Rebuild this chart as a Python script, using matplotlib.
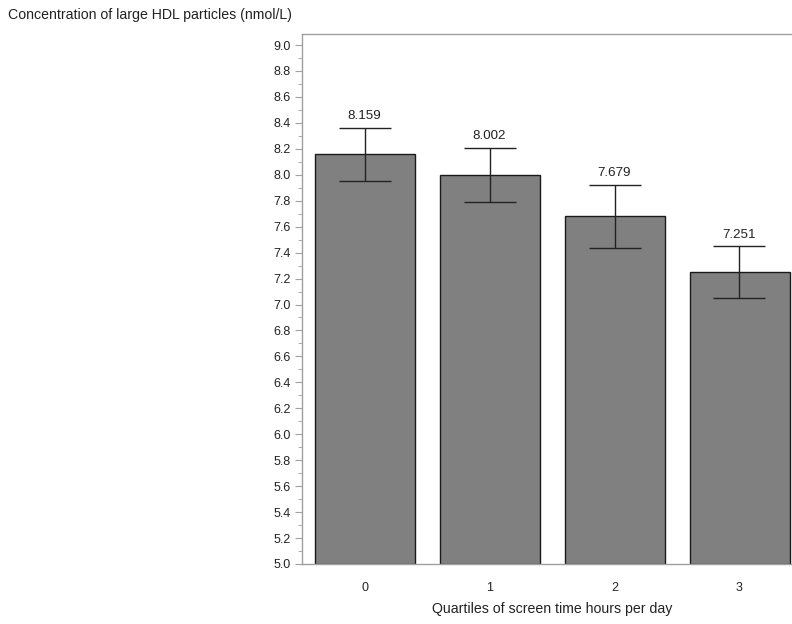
import matplotlib
matplotlib.use("Agg")
import matplotlib.pyplot as plt
from matplotlib.ticker import MultipleLocator

plt.rcParams['font.family'] = ['Liberation Sans', 'DejaVu Sans']

categories = ["0", "1", "2", "3"]
means = [8.159, 8.002, 7.679, 7.251]
upper = [8.364, 8.210, 7.924, 7.448]
lower = [7.950, 7.788, 7.435, 7.052]
value_labels = ["8.159", "8.002", "7.679", "7.251"]

fig = plt.figure(figsize=(7.92, 6.24), dpi=100)
ax = fig.add_axes([302/792, 60/624, 500/792, 530/624])

x = list(range(len(categories)))
err_lo = [m - l for m, l in zip(means, lower)]
err_hi = [u - m for m, u in zip(means, upper)]
ax.bar(x, [m - 5.0 for m in means], bottom=5.0, width=0.8, color='#808080',
       edgecolor='#1a1a1a', linewidth=1.0, zorder=2)
ax.errorbar(x, means, yerr=[err_lo, err_hi], fmt='none', ecolor='#222222',
            elinewidth=1.0, capsize=18.4, capthick=1.0, zorder=3)
for xi, u, lab in zip(x, upper, value_labels):
    ax.text(xi, u + 0.04, lab, ha='center', va='bottom', fontsize=9.6, color='#222222')

ax.set_xlim(-0.5, 3.5)
ax.set_ylim(5.0, 9.085)
ax.set_xticks(x)
ax.set_xticklabels(categories)
ax.yaxis.set_minor_locator(MultipleLocator(0.1))
ax.set_yticks([5.0 + 0.2 * i for i in range(21)])
ax.set_yticklabels([f"{5.0 + 0.2 * i:.1f}" for i in range(21)])

for s in ax.spines.values():
    s.set_color('#a0a0a0')
    s.set_linewidth(1.0)
ax.tick_params(axis='y', which='major', length=5, color='#a0a0a0', labelsize=9,
               labelcolor='#222222', pad=3)
ax.tick_params(axis='y', which='minor', length=3, color='#a0a0a0')
ax.tick_params(axis='x', length=0, labelsize=9, labelcolor='#222222', pad=13)

ax.set_xlabel("Quartiles of screen time hours per day", fontsize=10.2, color='#222222')
ax.xaxis.set_label_coords((552 - 302) / 500, -38/530)
fig.text(8/792, 1 - 15/624, "Concentration of large HDL particles (nmol/L)", ha='left', va='center',
         fontsize=10.2, color='#222222')

fig.savefig("out.png", dpi=100)
